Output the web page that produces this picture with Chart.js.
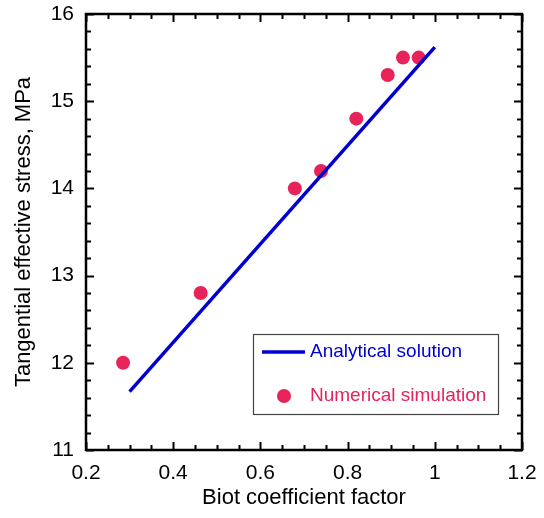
<!DOCTYPE html>
<html>
<head>
<meta charset="utf-8">
<script src="https://cdn.jsdelivr.net/npm/chart.js@4.4.1/dist/chart.umd.min.js"></script>
<style>
    html, body { margin: 0; padding: 0; background: #fff; }
    #wrap { width: 544px; height: 518px; }
</style>
</head>
<body>
<div id="wrap"><canvas id="graph"></canvas></div>
<script>
const SERIES_LINE = "Analytical solution";
const SERIES_DOTS = "Numerical simulation";
const X_LABEL = "Biot coefficient factor";
const Y_LABEL = "Tangential effective stress, MPa";

// analytical solution (straight line)
const lineX = [0.3, 1.0];
const lineY = [11.67, 15.62];

// numerical simulation points
const simX = [0.285, 0.463, 0.679, 0.739, 0.820, 0.892, 0.927, 0.963];
const simY = [12.0, 12.8, 14.0, 14.2, 14.8, 15.3, 15.5, 15.5];

const xTicks = [0.2, 0.4, 0.6, 0.8, 1.0, 1.2];
const xTickLabels = ["0.2", "0.4", "0.6", "0.8", "1", "1.2"];
const yTicks = [11, 12, 13, 14, 15, 16];

const BLUE = "#0000d2";
const PINK = "#e8235a";
const FONT = "'Liberation Sans', Arial, sans-serif";

const toPoints = (xs, ys) => xs.map((x, i) => ({ x: x, y: ys[i] }));

// box around the plot and inward tick marks on all four sides
const framePlugin = {
    id: "frame",
    afterDatasetsDraw(chart) {
        const { ctx, chartArea: a, scales } = chart;
        const sx = scales.x, sy = scales.y;
        ctx.save();
        ctx.strokeStyle = "#000";
        ctx.lineWidth = 2;
        ctx.beginPath();
        const xStep = (xTicks[1] - xTicks[0]) / 4;
        for (let i = 0; i <= (xTicks.length - 1) * 4; i++) {
            const px = Math.round(sx.getPixelForValue(xTicks[0] + i * xStep)) + 0.5;
            const len = i % 4 === 0 ? 8 : 5;
            ctx.moveTo(px, a.bottom); ctx.lineTo(px, a.bottom - len);
            ctx.moveTo(px, a.top); ctx.lineTo(px, a.top + len);
        }
        const yStep = (yTicks[1] - yTicks[0]) / 5;
        for (let i = 0; i <= (yTicks.length - 1) * 5; i++) {
            const py = Math.round(sy.getPixelForValue(yTicks[0] + i * yStep)) + 0.5;
            const len = i % 5 === 0 ? 8 : 5;
            ctx.moveTo(a.left, py); ctx.lineTo(a.left + len, py);
            ctx.moveTo(a.right, py); ctx.lineTo(a.right - len, py);
        }
        ctx.stroke();
        ctx.lineWidth = 2.5;
        ctx.strokeRect(a.left, a.top, a.right - a.left, a.bottom - a.top);
        ctx.restore();
    }
};

// legend box inside the plot, lower right
const legendPlugin = {
    id: "boxLegend",
    afterDraw(chart) {
        const { ctx, chartArea: a } = chart;
        const ds = chart.data.datasets;
        const left = a.right - 269, top = a.bottom - 116;
        const w = 245, h = 80;
        ctx.save();
        ctx.fillStyle = "#fff";
        ctx.fillRect(left, top, w, h);
        ctx.strokeStyle = "#444";
        ctx.lineWidth = 1.2;
        ctx.strokeRect(left + 0.5, top + 0.5, w, h);

        ctx.strokeStyle = ds[0].borderColor;
        ctx.lineWidth = 3.5;
        ctx.beginPath();
        ctx.moveTo(left + 9, top + 18);
        ctx.lineTo(left + 52, top + 18);
        ctx.stroke();

        ctx.fillStyle = ds[1].backgroundColor;
        ctx.beginPath();
        ctx.arc(left + 31, top + 62, 7, 0, Math.PI * 2);
        ctx.fill();

        ctx.font = "19px " + FONT;
        ctx.textBaseline = "middle";
        ctx.textAlign = "left";
        ctx.fillStyle = ds[0].borderColor;
        ctx.fillText(ds[0].label, left + 57, top + 18);
        ctx.fillStyle = ds[1].backgroundColor;
        ctx.fillText(ds[1].label, left + 57, top + 62);
        ctx.restore();
    }
};

const ctx = document.getElementById("graph");

new Chart(ctx, {
    type: "scatter",
    data: {
        datasets: [
            {
                label: SERIES_LINE,
                data: toPoints(lineX, lineY),
                showLine: true,
                borderColor: BLUE,
                borderWidth: 3.5,
                pointRadius: 0,
                fill: false,
            },
            {
                label: SERIES_DOTS,
                data: toPoints(simX, simY),
                backgroundColor: PINK,
                borderWidth: 0,
                pointRadius: 7,
                pointHoverRadius: 7,
            },
        ],
    },
    options: {
        responsive: true,
        maintainAspectRatio: false,
        animation: false,
        layout: {
            padding: { top: 14, right: 22, left: 0, bottom: 0 },
        },
        plugins: {
            legend: { display: false },
            tooltip: { enabled: false },
        },
        scales: {
            x: {
                type: "linear",
                min: 0.2,
                max: 1.2,
                afterBuildTicks: (scale) => {
                    scale.ticks = xTicks.map((v) => ({ value: v }));
                },
                afterFit: (scale) => {
                    scale.height = 68;
                    scale.paddingLeft = 0;
                    scale.paddingRight = 0;
                },
                grid: { display: false, drawTicks: false },
                border: { display: false },
                ticks: {
                    padding: 11,
                    color: "#000",
                    font: { family: FONT, size: 21 },
                    maxRotation: 0,
                    callback: (v) => {
                        const i = xTicks.findIndex((t) => Math.abs(t - v) < 1e-6);
                        return i >= 0 ? xTickLabels[i] : "";
                    },
                },
                title: {
                    display: true,
                    text: X_LABEL,
                    color: "#000",
                    font: { family: FONT, size: 22 },
                    padding: { top: 0, bottom: 7 },
                },
            },
            y: {
                type: "linear",
                min: 11,
                max: 16,
                afterBuildTicks: (scale) => {
                    scale.ticks = yTicks.map((v) => ({ value: v }));
                },
                afterFit: (scale) => {
                    scale.width = 86;
                    scale.paddingTop = 0;
                    scale.paddingBottom = 0;
                },
                grid: { display: false, drawTicks: false },
                border: { display: false },
                ticks: {
                    padding: 12,
                    color: "#000",
                    font: { family: FONT, size: 21 },
                },
                title: {
                    display: true,
                    text: Y_LABEL,
                    color: "#000",
                    font: { family: FONT, size: 22 },
                    padding: { top: 11, bottom: 0 },
                },
            },
        },
    },
    plugins: [framePlugin, legendPlugin],
});
</script>
</body>
</html>
